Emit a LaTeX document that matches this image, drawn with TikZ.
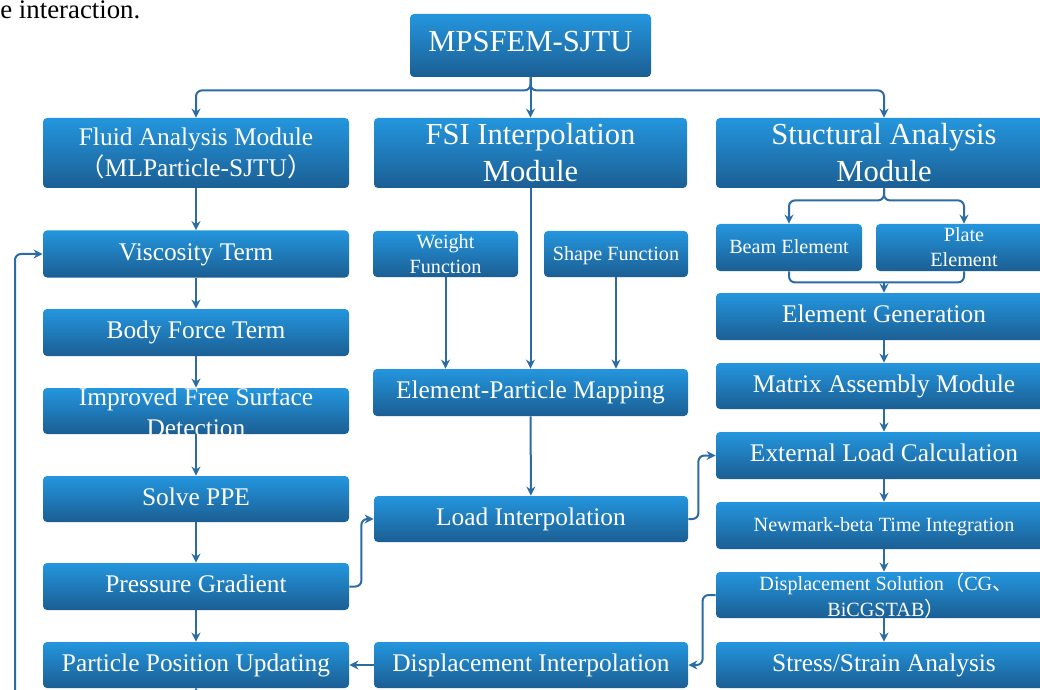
\documentclass[tikz,border=0pt]{standalone}
\usepackage{fontspec}
\setmainfont{Liberation Serif}
\newfontfamily\cjk{Noto Sans CJK SC}
\usetikzlibrary{arrows.meta}

\definecolor{boxtop}{HTML}{2496DE}
\definecolor{boxbot}{HTML}{1B5E93}
\definecolor{linkblue}{HTML}{2A6CA3}

\newcommand\titletxt{\fontsize{15.3}{18.5}\selectfont}
\newcommand\midtxt{\fontsize{12.7}{15.5}\selectfont}
\newcommand\smalltxt{\fontsize{10.1}{12.5}\selectfont}

\begin{document}
\begin{tikzpicture}[x=0.5pt,y=-0.5pt,
  over/.style={text=white, align=center, inner sep=0pt, font=\midtxt},
  blk/.style={over, rounded corners=2pt, top color=boxtop, bottom color=boxbot},
  one/.style={text height=0.8em, text depth=0.18em},
  lnk/.style={draw=linkblue, line width=1pt, rounded corners=3pt, -{Stealth[length=4.5pt,width=4.5pt]}},
  bar/.style={draw=linkblue, line width=1pt, rounded corners=3pt}]
\fill[white] (0,0) rectangle (1040,690);
\useasboundingbox (0,0) rectangle (1040,690);
\clip (0,0) rectangle (1040,690);

\node[anchor=base west, font=\fontsize{13.4}{16}\selectfont, inner sep=0pt] (capt) at (0,19) {e interaction.};

% top level
\node[blk, one, minimum width=120.5pt, minimum height=31.5pt, font=\titletxt] (top) at (530.5,45.5) {MPSFEM-SJTU};
\node[blk, minimum width=153pt, minimum height=35pt] (fluid) at (196,153) {Fluid Analysis Module\\{\cjk （}MLParticle-SJTU{\cjk ）}};
\node[blk, minimum width=156.5pt, minimum height=35pt, font=\titletxt] (fsi) at (530.5,153) {FSI Interpolation\\Module};
\node[blk, minimum width=168pt, minimum height=35pt, font=\titletxt] (struct) at (884,153) {Stuctural Analysis\\Module};

% fluid side
\node[blk, one, minimum width=153pt, minimum height=23.5pt] (visc) at (196,254) {Viscosity Term};
\node[blk, one, minimum width=153pt, minimum height=23.5pt] (body) at (196,332.5) {Body Force Term};
\node[blk, minimum width=153pt, minimum height=23pt] (ifs) at (196,411) {};
\node[over] (ifstxt) at (196,412) {Improved Free Surface\\Detection};
\node[blk, one, minimum width=153pt, minimum height=23pt] (ppe) at (196,499) {Solve PPE};
\node[blk, one, minimum width=153pt, minimum height=23.5pt] (pgrad) at (196,586.5) {Pressure Gradient};
\node[blk, one, minimum width=153pt, minimum height=23pt] (ppu) at (196,665) {Particle Position Updating};

% interpolation
\node[blk, minimum width=72.5pt, minimum height=23pt, font=\smalltxt] (weight) at (445.5,254) {Weight\\Function};
\node[blk, one, minimum width=72pt, minimum height=23pt, font=\smalltxt] (shape) at (616,254) {Shape Function};
\node[blk, one, minimum width=157.5pt, minimum height=23.5pt] (epm) at (530.5,392.5) {Element-Particle Mapping};
\node[blk, one, minimum width=157pt, minimum height=23pt] (load) at (531,519) {Load Interpolation};
\node[blk, one, minimum width=157pt, minimum height=23pt] (dinterp) at (531,665) {Displacement Interpolation};

% structure side
\node[blk, one, minimum width=73pt, minimum height=23.5pt, font=\smalltxt] (beam) at (789,247.5) {Beam Element};
\node[blk, minimum width=88pt, minimum height=23.5pt, font=\smalltxt] (plate) at (964,247.5) {Plate\\Element};
\node[blk, one, minimum width=168pt, minimum height=23.5pt] (elgen) at (884,316.5) {Element Generation};
\node[blk, one, minimum width=168pt, minimum height=23pt] (matrix) at (884,386) {Matrix Assembly Module};
\node[blk, one, minimum width=168pt, minimum height=23.5pt] (ext) at (884,455.5) {External Load Calculation};
\node[blk, one, minimum width=168pt, minimum height=23.5pt, font=\smalltxt] (newmark) at (884,525.5) {Newmark-beta Time Integration};
\node[blk, minimum width=168pt, minimum height=23pt] (dsol) at (884,595) {};
\node[over, font=\fontsize{10.1}{13}\selectfont] (dsoltxt) at (886,596) {Displacement Solution{\cjk （}CG{\cjk 、}\\BiCGSTAB{\cjk ）}};
\node[blk, one, minimum width=168pt, minimum height=23pt] (stress) at (884,665) {Stress/Strain Analysis};

% links
\draw[lnk] (top.south) -- ++(0,13) -| (fluid.north);
\draw[lnk] (top.south) -- ++(0,13) -| (struct.north);
\draw[lnk] (top) -- (fsi);

\draw[lnk] (fluid) -- (visc);
\draw[lnk] (visc) -- (body);
\draw[lnk] (body) -- (ifs);
\draw[lnk] (ifs) -- (ppe);
\draw[lnk] (ppe) -- (pgrad);
\draw[lnk] (pgrad) -- (ppu);
\coordinate (loopdn) at (15,712);
\draw[lnk] (ppu) |- (loopdn) |- (visc);

\draw[lnk] (fsi) -- (epm);
\draw[lnk] (weight) -- (weight |- epm.north);
\draw[lnk] (shape) -- (shape |- epm.north);
\draw[lnk] (epm) -- (load);
\draw[lnk] (pgrad.east) -- ++(12,0) |- (load.west);
\draw[lnk] (load.east) -- ++(10,0) |- (ext.west);
\draw[lnk] (dsol.west) -- ++(-13,0) |- (dinterp.east);
\draw[lnk] (dinterp) -- (ppu);

\draw[lnk] (struct.south) -- ++(0,12) -| (beam.north);
\draw[lnk] (struct.south) -- ++(0,12) -| (plate.north);
\draw[bar] (beam.south) -- ++(0,11) -| (plate.south);
\draw[lnk] (elgen.north |- beam.south) ++(0,11) -- (elgen.north);
\draw[lnk] (elgen) -- (matrix);
\draw[lnk] (matrix) -- (ext);
\draw[lnk] (ext) -- (newmark);
\draw[lnk] (newmark) -- (dsol);
\draw[lnk] (dsol) -- (stress);
\end{tikzpicture}
\end{document}
